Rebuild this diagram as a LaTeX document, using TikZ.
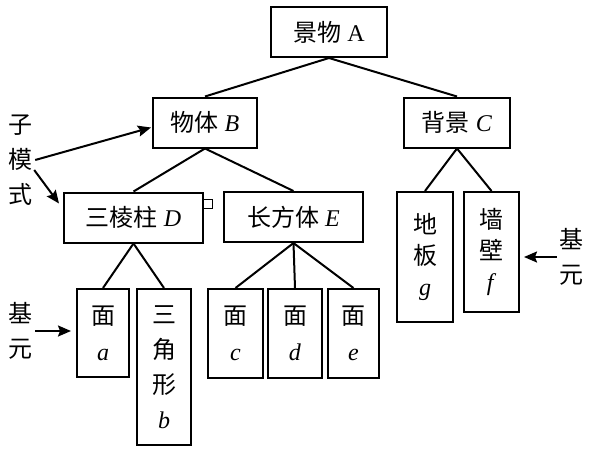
\documentclass[tikz,border=0pt]{standalone}
\usepackage{fontspec}
\setmainfont{Liberation Serif}
\newfontfamily\hanzi{Noto Sans CJK SC}
\usetikzlibrary{calc}
\usetikzlibrary{arrows.meta}

\begin{document}
\begin{tikzpicture}[x=1pt, y=-1pt]
		\tikzstyle{box} = [rectangle, draw, line width=2pt, inner sep=0pt, align=center, font=\fontsize{24}{36}\selectfont]
		\tikzstyle{wide} = [box, minimum height=50pt]
		\tikzstyle{tall} = [box, minimum width=54pt, minimum height=89pt]
		\tikzstyle{link} = [line width=2pt]
		\tikzstyle{pointer} = [line width=2pt, -{Stealth[length=13pt, width=11pt, inset=2pt]}]
		\tikzstyle{side} = [align=center, inner sep=2pt, font=\hanzi\fontsize{24}{35}\selectfont]
		
		\useasboundingbox (0,0) rectangle (605,463);
		
		\node [wide, minimum width=116pt] (A) at (329,32) {{\hanzi 景物} A};
		
		\node [wide, minimum width=104pt] (B) at (205,122.5) {{\hanzi 物体} \textit{B}};
		\node [wide, minimum width=106pt] (C) at (457,122.5) {{\hanzi 背景} \textit{C}};
		
		\node [wide, minimum width=139pt] (D) at (133.5,217.5) {{\hanzi 三棱柱} \textit{D}};
		\node [wide, minimum width=139pt] (E) at (293.5,217) {{\hanzi 长方体} \textit{E}};
		
		\node [tall, minimum width=56pt, minimum height=130pt, font=\fontsize{24}{31}\selectfont] (g) at (425,257) {{\hanzi 地}\\{\hanzi 板}\\\textit{g}};
		\node [tall, minimum width=55pt, minimum height=120pt, font=\fontsize{24}{31}\selectfont] (f) at (491.5,252) {{\hanzi 墙}\\{\hanzi 壁}\\\textit{f}};
		
		\node [tall, minimum width=52pt, minimum height=88pt] (a) at (103,333) {{\hanzi 面}\\\textit{a}};
		\node [tall, minimum height=156pt, font=\fontsize{24}{35}\selectfont] (b) at (164,367) {{\hanzi 三}\\{\hanzi 角}\\{\hanzi 形}\\\textit{b}};
		\node [tall, minimum width=55pt] (c) at (235.5,333.5) {{\hanzi 面}\\\textit{c}};
		\node [tall] (d) at (295,333.5) {{\hanzi 面}\\\textit{d}};
		\node [tall, minimum width=51pt] (e) at (353.5,333.5) {{\hanzi 面}\\\textit{e}};
		
		\draw [link] (A.south) to (B.north);
		\draw [link] (A.south) to (C.north);
		\draw [link] (B.south) to (D.north);
		\draw [link] (B.south) to (E.north);
		\draw [link] (C.south) to (g.north);
		\draw [link] (C.south) to (f.north);
		\draw [link] (D.south) to (a.north);
		\draw [link] (D.south) to (b.north);
		\draw [link] (E.south) to (c.north);
		\draw [link] (E.south) to (d.north);
		\draw [link] (E.south) to (e.north);
		
		% side labels
		\node [side] (sub) at (21,160) {子\\模\\式};
		\node [side] (baseL) at (21,331) {基\\元};
		\node [side] (baseR) at (571,257) {基\\元};
		
		\draw [pointer] (sub.east) to ($(B.west)+(-1,5)$);
		\draw [pointer] ($(sub.east)+(-1,10)$) to ($(D.north west)+(-4,12)$);
		\draw [pointer, shorten >=5pt] (baseL.east) to (baseL.east -| a.west);
		\draw [pointer, shorten >=4pt] (baseR.west) to (baseR.west -| f.east);
		
		\draw [line width=0.8pt, fill=white] (203,199) rectangle (212,208);
	\end{tikzpicture}
\end{document}
